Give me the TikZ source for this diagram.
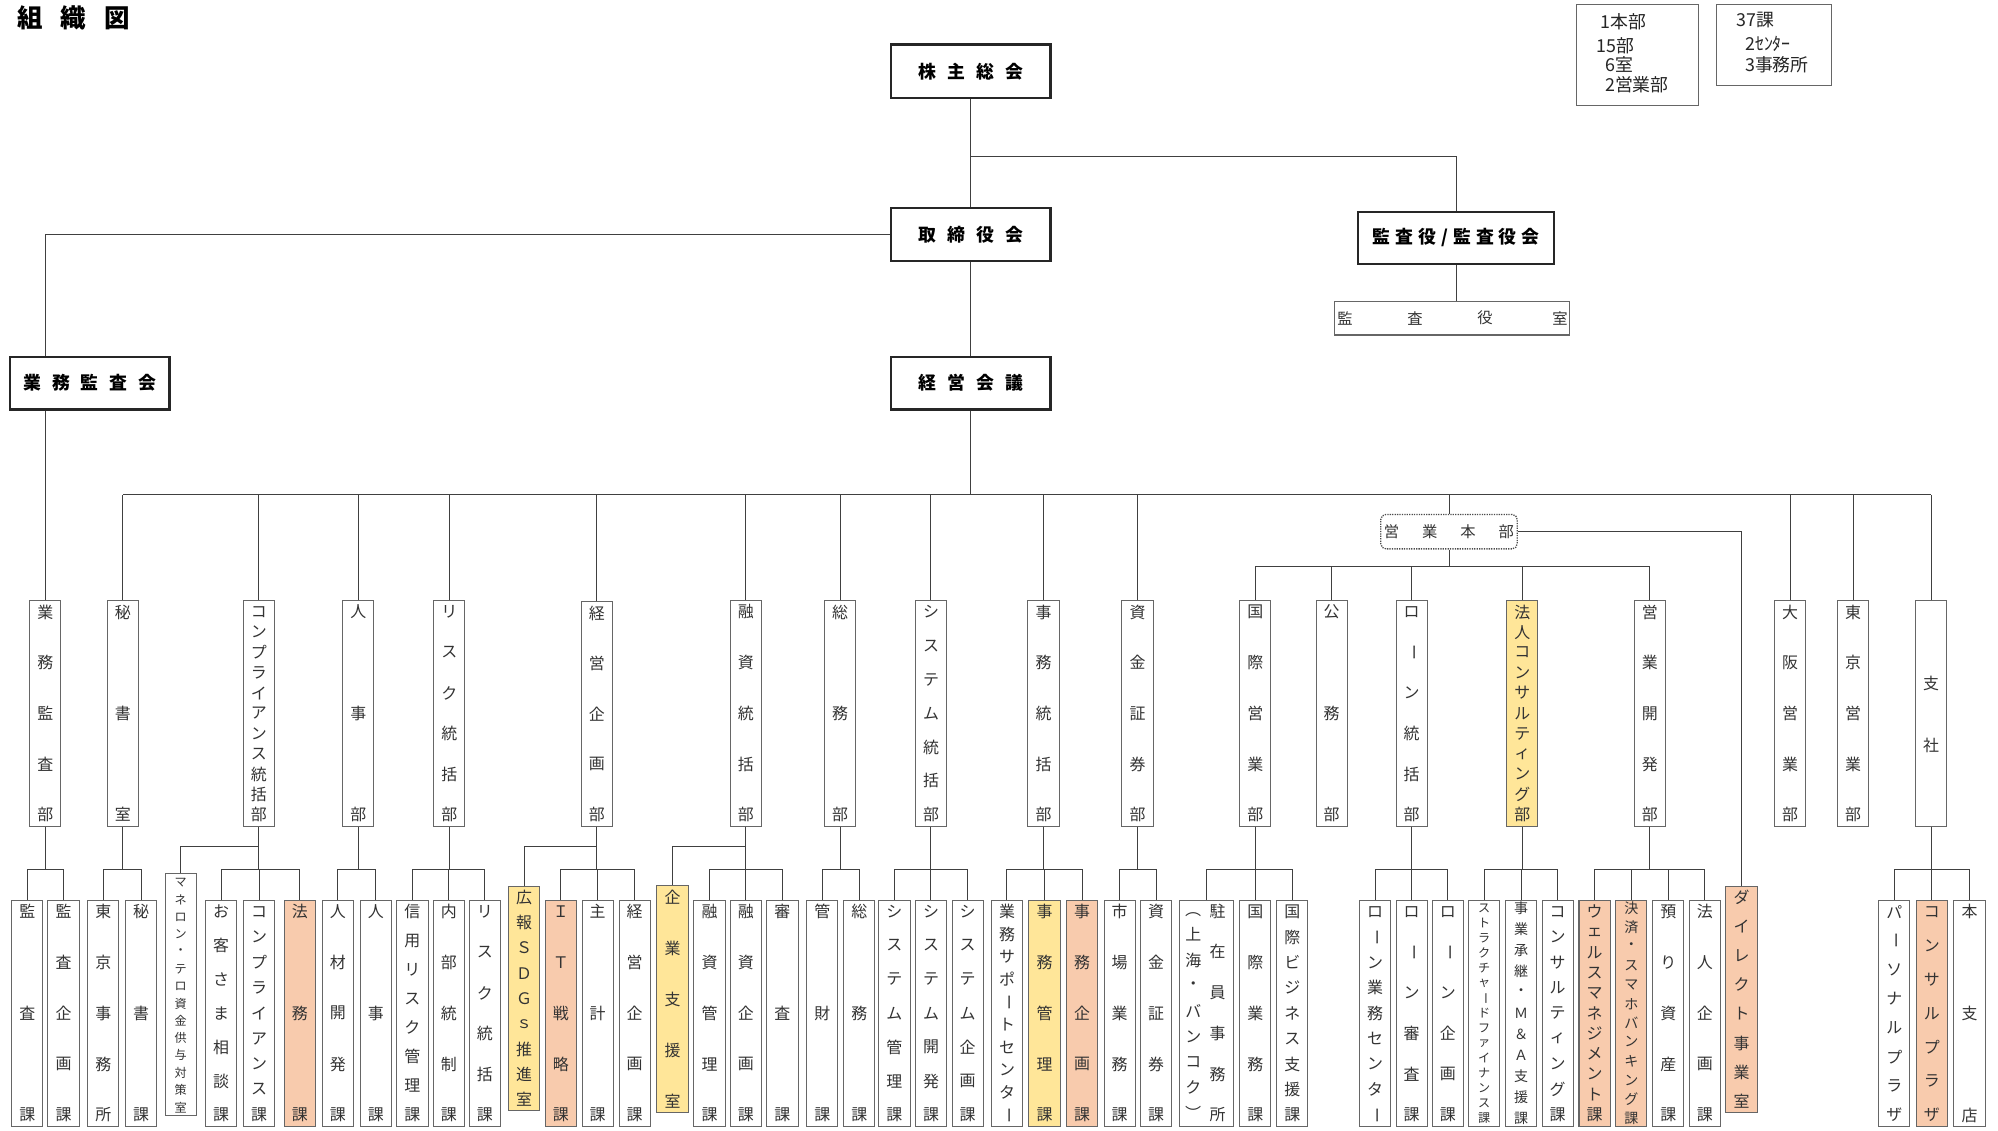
\documentclass[tikz,border=0pt]{standalone}
\usepackage{fontspec}
\newfontfamily\jp{Noto Sans CJK JP}
\usetikzlibrary{calc}
\definecolor{orangeF}{HTML}{F8CBAD}
\definecolor{yellowF}{HTML}{FFE699}
\newcommand\VLb{\rotatebox[origin=c]{-90}{ー}}
\newcommand\LPb{\rotatebox[origin=c]{-90}{（}}
\newcommand\RPb{\rotatebox[origin=c]{-90}{）}}
\newcommand\topf{\jp\bfseries\fontsize{14}{14}\selectfont}
\newcommand\tsp{\hspace{8.7pt}}
\newcommand\ksp{\hspace{4pt}}
\tikzset{
 x=1pt,y=-1pt,
 conn/.style={draw=black!75,line width=0.8pt},
 ubox/.style={draw=black!60,line width=0.8pt,fill=white,inner sep=0pt},
 obox/.style={ubox,fill=orangeF},
 ybox/.style={ubox,fill=yellowF},
 topbox/.style={draw=black!85,line width=1.8pt,fill=white,inner sep=0pt,font=\topf},
 vch/.style={inner sep=0pt,font=\jp\fontsize{12.5}{12.5}\selectfont,text=black!80},
 mch/.style={inner sep=0pt,font=\jp\fontsize{11}{11}\selectfont,text=black!80},
 sch/.style={inner sep=0pt,font=\jp\fontsize{9.5}{9.5}\selectfont,text=black!80},
 lgt/.style={inner sep=0pt,anchor=west,font=\jp\fontsize{14}{14}\selectfont,text=black!85},
}
% evenly spaced vertical text: [style]{x}{y first}{y last}{list}
\newcommand\VTx[5][vch]{%
  \foreach \ch [count=\cnt] in {#5}{\xdef\VTn{\cnt}}%
  \foreach \ch [count=\i] in {#5}{\node[#1] at ({#2},{#3+(\i-1)*((#4)-(#3))/(\VTn-1)}) {\ch};}}
% box with vertical text: [boxstyle]{name}{x}{ytop}{ybot}{list}
\newcommand\Bx[6][ubox]{%
  \node[#1,minimum width=24.5pt,minimum height={(#5)-(#4)}] (#2) at (#3,{((#4)+(#5))/2}) {};
  \VTx{#3}{#4+9}{#5-9}{#6}}
% same with text style: [boxstyle]{textstyle}{name}{x}{ytop}{ybot}{list}
\newcommand\BxT[7][ubox]{%
  \node[#1,minimum width=24.5pt,minimum height={(#6)-(#5)}] (#3) at (#4,{((#5)+(#6))/2}) {};
  \VTx[#2]{#4}{#5+6.5}{#6-6.5}{#7}}
\newcommand\SubB[4]{%
  \draw[conn] (#1.south) -- (#1.south |- sb);
  \draw[conn] (#2.north |- sb) -- (#3.north |- sb);
  \foreach \cc in {#4}{\draw[conn] (\cc.north) -- (\cc.north |- sb);}}
\begin{document}
\begin{tikzpicture}
\fill[white] (0,0) rectangle (1567.1,886.3);
\useasboundingbox (0,0) rectangle (1567.1,886.3);
\coordinate (kb) at (0,122.4);
\coordinate (b1) at (0,388);
\coordinate (b2) at (0,444);
\coordinate (br) at (0,663.7);
\coordinate (sb) at (0,681.6);

% title
\node[inner sep=0pt,anchor=west,font=\jp\bfseries\fontsize{20}{20}\selectfont] (title) at (13.5,14.4) {組\hspace{14pt}織\hspace{14pt}図};

% legend
\node[draw=black!60,line width=0.8pt,minimum width=95.4pt,minimum height=79.2pt,inner sep=0pt] (lg1) at (1284.3,43.5) {};
\node[draw=black!60,line width=0.8pt,minimum width=90.2pt,minimum height=62.8pt,inner sep=0pt] (lg2) at (1391.5,35.3) {};
\node[lgt] (l1) at (1255,17) {1本部};
\node[lgt] (l2) at (1252.3,35.8) {15部};
\node[lgt] (l3) at (1258.8,50.5) {6室};
\node[lgt] (l4) at (1258.8,66.5) {2営業部};
\node[lgt] (l5) at (1362,15.7) {37課};
\node[lgt] (l6) at (1368.6,34.5) {2ｾﾝﾀｰ};
\node[lgt] (l7) at (1368.6,51) {3事務所};

% top level
\node[topbox,minimum width=125pt,minimum height=42pt] (kabu) at (761.5,56) {株\tsp 主\tsp 総\tsp 会};
\node[topbox,minimum width=125pt,minimum height=41.5pt] (tori) at (761.5,184) {取\tsp 締\tsp 役\tsp 会};
\node[topbox,minimum width=154pt,minimum height=41pt] (kyk) at (1142,186.5) {監\ksp 査\ksp 役\ksp /\ksp 監\ksp 査\ksp 役\ksp 会};
\node[ubox,minimum width=184pt,minimum height=26.5pt] (ksh) at (1139,249.5) {};
\node[vch,font=\jp\fontsize{12}{12}\selectfont] (ks1) at (1055,249.5) {監};
\node[vch,font=\jp\fontsize{12}{12}\selectfont] (ks2) at (1109.8,249.5) {査};
\node[vch,font=\jp\fontsize{12}{12}\selectfont] (ks3) at (1164.7,249.5) {役};
\node[vch,font=\jp\fontsize{12}{12}\selectfont] (ks4) at (1223.5,249.5) {室};
\node[topbox,minimum width=125pt,minimum height=41.5pt] (gkk) at (70.5,300.5) {業\tsp 務\tsp 監\tsp 査\tsp 会};
\node[topbox,minimum width=125pt,minimum height=41.5pt] (kk) at (761.5,300.5) {経\tsp 営\tsp 会\tsp 議};
\node[draw=black!70,dash pattern=on 1pt off 0.9pt,line width=1pt,rounded corners=4pt,minimum width=107pt,minimum height=27pt,fill=white,inner sep=0pt,font=\jp\fontsize{12}{12}\selectfont,text=black!80] (ehb) at (1136.5,417) {営\hspace{18pt}業\hspace{18pt}本\hspace{18pt}部};

% middle level
\Bx{m1}{35.5}{471}{648}{業,務,監,査,部}
\Bx{m2}{96.3}{471}{648}{秘,書,室}
\Bx{m3}{203}{471}{648}{コ,ン,プ,ラ,イ,ア,ン,ス,統,括,部}
\Bx{m4}{281}{471}{648}{人,事,部}
\Bx{m5}{352.4}{471}{648}{リ,ス,ク,統,括,部}
\Bx{m6}{468.2}{472}{648}{経,営,企,画,部}
\Bx{m7}{585}{471}{648}{融,資,統,括,部}
\Bx{m8}{659}{471}{648}{総,務,部}
\Bx{m9}{730.2}{471}{648}{シ,ス,テ,ム,統,括,部}
\Bx{m10}{818.5}{471}{648}{事,務,統,括,部}
\Bx{m11}{892.2}{471}{648}{資,金,証,券,部}
\Bx{m12}{984.6}{471}{648}{国,際,営,業,部}
\Bx{m13}{1044.5}{471}{648}{公,務,部}
\Bx{m14}{1107.2}{471}{648}{ロ,\VLb,ン,統,括,部}
\Bx[ybox]{m15}{1194}{471}{648}{法,人,コ,ン,サ,ル,テ,ィ,ン,グ,部}
\Bx{m16}{1294.1}{471}{648}{営,業,開,発,部}
\Bx{m17}{1404}{471}{648}{大,阪,営,業,部}
\Bx{m18}{1453.4}{471}{648}{東,京,営,業,部}
\node[ubox,minimum width=24.5pt,minimum height=177pt] (m19) at (1514.7,559.5) {};
\node[vch] (m19a) at (1514.7,536) {支};
\node[vch] (m19b) at (1514.7,584.7) {社};

% bottom level
\Bx{c1}{21.4}{706}{883.5}{監,査,課}
\Bx{c2}{49.8}{706}{883.5}{監,査,企,画,課}
\Bx{c3}{81}{706}{883.5}{東,京,事,務,所}
\Bx{c4}{110.6}{706}{883.5}{秘,書,課}
\node[ubox,minimum width=24.5pt,minimum height=189.7pt] (c5) at (141.8,779.85) {};
\VTx[sch]{141.8}{692}{868.5}{マ,ネ,ロ,ン,・,テ,ロ,資,金,供,与,対,策,室}
\Bx{c6}{173.5}{706}{883.5}{お,客,さ,ま,相,談,課}
\Bx{c7}{203.2}{706}{883.5}{コ,ン,プ,ラ,イ,ア,ン,ス,課}
\Bx[obox]{c8}{235.2}{706}{883.5}{法,務,課}
\Bx{c9}{265}{706}{883.5}{人,材,開,発,課}
\Bx{c10}{294.8}{706}{883.5}{人,事,課}
\Bx{c11}{323.5}{706}{883.5}{信,用,リ,ス,ク,管,理,課}
\Bx{c12}{352}{706}{883.5}{内,部,統,制,課}
\Bx{c13}{380.2}{706}{883.5}{リ,ス,ク,統,括,課}
\Bx[ybox]{c14}{411}{695}{871.3}{広,報,Ｓ,Ｄ,Ｇ,ｓ,推,進,室}
\Bx[obox]{c15}{439.8}{706}{883.5}{Ｉ,Ｔ,戦,略,課}
\Bx{c16}{468.8}{706}{883.5}{主,計,課}
\Bx{c17}{497.8}{706}{883.5}{経,営,企,画,課}
\Bx[ybox]{c18}{527.5}{694.5}{872.7}{企,業,支,援,室}
\Bx{c19}{556.5}{706}{883.5}{融,資,管,理,課}
\Bx{c20}{585}{706}{883.5}{融,資,企,画,課}
\Bx{c21}{613.7}{706}{883.5}{審,査,課}
\Bx{c22}{645}{706}{883.5}{管,財,課}
\Bx{c23}{674}{706}{883.5}{総,務,課}
\Bx{c24}{701.5}{706}{883.5}{シ,ス,テ,ム,管,理,課}
\Bx{c25}{730.2}{706}{883.5}{シ,ス,テ,ム,開,発,課}
\Bx{c26}{759}{706}{883.5}{シ,ス,テ,ム,企,画,課}
\Bx{c27}{789.8}{706}{883.5}{業,務,サ,ポ,\VLb,ト,セ,ン,タ,\VLb}
\Bx[ybox]{c28}{819.3}{706}{883.5}{事,務,管,理,課}
\Bx[obox]{c29}{848.7}{706}{883.5}{事,務,企,画,課}
\Bx{c30}{878.2}{706}{883.5}{市,場,業,務,課}
\Bx{c31}{906.7}{706}{883.5}{資,金,証,券,課}
\node[ubox,minimum width=42pt,minimum height=177.5pt] (c32) at (946.2,794.75) {};
\VTx{955}{714.5}{874.5}{駐,在,員,事,務,所}
\VTx{936}{713}{873}{\LPb,上,海,・,バ,ン,コ,ク,\RPb}
\Bx{c33}{984.6}{706}{883.5}{国,際,業,務,課}
\Bx{c34}{1013.6}{706}{883.5}{国,際,ビ,ジ,ネ,ス,支,援,課}
\Bx{c35}{1078.5}{706}{883.5}{ロ,\VLb,ン,業,務,セ,ン,タ,\VLb}
\Bx{c36}{1107.2}{706}{883.5}{ロ,\VLb,ン,審,査,課}
\Bx{c37}{1135.5}{706}{883.5}{ロ,\VLb,ン,企,画,課}
\BxT{sch}{c38}{1164}{706}{883.5}{ス,ト,ラ,ク,チ,ャ,\VLb,ド,フ,ァ,イ,ナ,ン,ス,課}
\BxT{mch}{c39}{1193}{706}{883.5}{事,業,承,継,・,Ｍ,＆,Ａ,支,援,課}
\Bx{c40}{1221.7}{706}{883.5}{コ,ン,サ,ル,テ,ィ,ン,グ,課}
\Bx[obox]{c41}{1250.7}{706}{883.5}{ウ,ェ,ル,ス,マ,ネ,ジ,メ,ン,ト,課}
\BxT[obox]{mch}{c42}{1279.5}{706}{883.5}{決,済,・,ス,マ,ホ,バ,ン,キ,ン,グ,課}
\Bx{c43}{1308.5}{706}{883.5}{預,り,資,産,課}
\Bx{c44}{1337.2}{706}{883.5}{法,人,企,画,課}
\Bx[obox]{c45}{1365.9}{695}{872.7}{ダ,イ,レ,ク,ト,事,業,室}
\Bx{c46}{1485.7}{706}{883.5}{パ,\VLb,ソ,ナ,ル,プ,ラ,ザ}
\Bx[obox]{c47}{1515.2}{706}{883.5}{コ,ン,サ,ル,プ,ラ,ザ}
\Bx{c48}{1544.8}{706}{883.5}{本,支,店}

% connectors, top
\draw[conn] (kabu.south) -- (tori.north);
\draw[conn] (kabu.south |- kb) -| (kyk.north);
\draw[conn] (kyk.south) -- (kyk.south |- ksh.north);
\draw[conn] (tori.west) -| (m1.north |- gkk.north);
\draw[conn] (m1.north |- gkk.south) -- (m1.north);
\draw[conn] (tori.south) -- (kk.north);
\draw[conn] (kk.south) -- (kk.south |- b1);
\draw[conn] (m2.north |- b1) -- (m19.north |- b1);
\foreach \m in {m2,m3,m4,m5,m6,m7,m8,m9,m10,m11,m17,m18,m19,ehb}
  {\draw[conn] (\m.north) -- (\m.north |- b1);}
\draw[conn] (ehb.south) -- (ehb.south |- b2);
\draw[conn] (m12.north |- b2) -- (m16.north |- b2);
\foreach \m in {m12,m13,m14,m15,m16}
  {\draw[conn] (\m.north) -- (\m.north |- b2);}
\draw[conn] (ehb.east) -| (c45.north);

% connectors, bottom
\SubB{m1}{c1}{c2}{c1,c2}
\SubB{m2}{c3}{c4}{c3,c4}
\SubB{m3}{c6}{c8}{c6,c7,c8}
\draw[conn] (m3.south |- br) -| (c5.north);
\SubB{m4}{c9}{c10}{c9,c10}
\SubB{m5}{c11}{c13}{c11,c12,c13}
\SubB{m6}{c15}{c17}{c15,c16,c17}
\draw[conn] (m6.south |- br) -| (c14.north);
\SubB{m7}{c19}{c21}{c19,c20,c21}
\draw[conn] (m7.south |- br) -| (c18.north);
\SubB{m8}{c22}{c23}{c22,c23}
\SubB{m9}{c24}{c26}{c24,c25,c26}
\SubB{m10}{c27}{c29}{c27,c28,c29}
\SubB{m11}{c30}{c31}{c30,c31}
\SubB{m12}{c32}{c34}{c32,c33,c34}
\SubB{m14}{c35}{c37}{c35,c36,c37}
\SubB{m15}{c38}{c40}{c38,c39,c40}
\SubB{m16}{c41}{c44}{c41,c42,c43,c44}
\SubB{m19}{c46}{c48}{c46,c47,c48}
\end{tikzpicture}
\end{document}
